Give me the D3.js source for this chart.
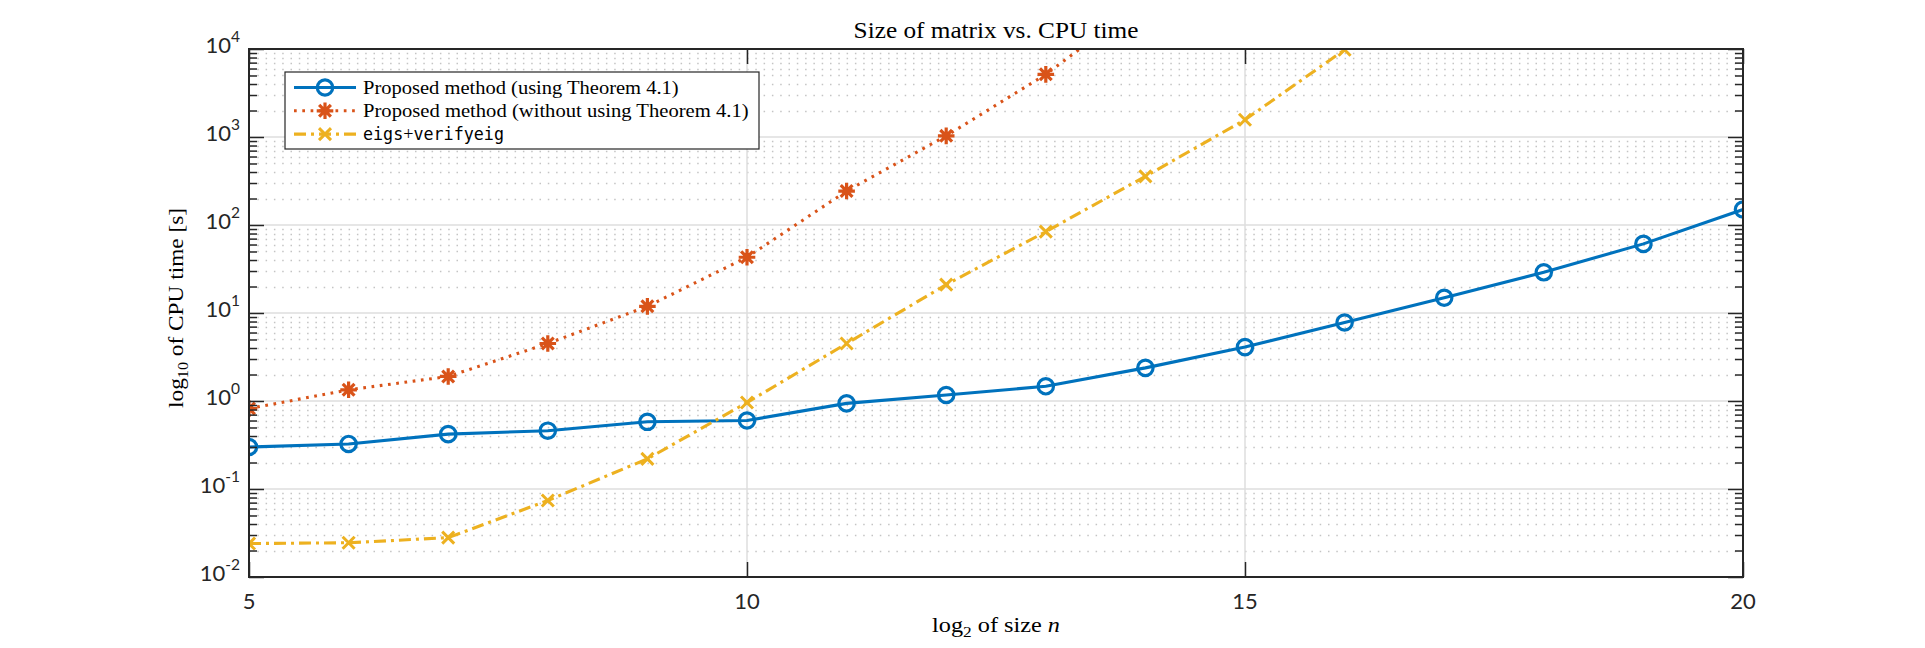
<!DOCTYPE html>
<html>
<head>
<meta charset="utf-8">
<script src="https://cdn.jsdelivr.net/npm/d3@7"></script>
<style>
  body { margin: 0; background: #fff; }
  svg { display: block; }
</style>
</head>
<body>
<svg id="chart" width="1925" height="648"></svg>
<script>
// values
var sizes = [5, 6, 7, 8, 9, 10, 11, 12, 13, 14, 15, 16, 17, 18, 19, 20];
var withThm = [0.30, 0.325, 0.42, 0.46, 0.58, 0.60, 0.94, 1.17, 1.47, 2.38, 4.1, 7.8, 14.9, 29, 61, 150];
var withoutThm = [0.82, 1.34, 1.9, 4.5, 11.9, 43, 243, 1030, 5150, 36000];
var eigsVerify = [0.024, 0.0245, 0.028, 0.074, 0.22, 0.96, 4.5, 21, 84, 357, 1570, 9800];
var xTicks = [5, 10, 15, 20];
var yExps = [-2, -1, 0, 1, 2, 3, 4];

var margin = {left: 249, top: 49},
  width = 1494,
  height = 528;

var axisColor = "#262626";
var tickFont = "Lato, 'Noto Sans', sans-serif";
var serif = "'Liberation Serif', 'DejaVu Serif', serif";
var mono = "'DejaVu Sans Mono', 'Liberation Mono', monospace";

var svg = d3.select("#chart");

var x = d3.scaleLinear().domain([5, 20]).range([0, width]);
var y = d3.scaleLog().domain([1e-2, 1e4]).range([height, 0]);

var g = svg.append("g")
  .attr("transform", "translate(" + margin.left + "," + margin.top + ")");

// minor values for log axis
var minors = [];
yExps.slice(0, -1).forEach(function(e) {
  for (var k = 2; k <= 9; k++) minors.push(k * Math.pow(10, e));
});
var majors = yExps.map(function(e) { return Math.pow(10, e); });

// minor grid (dotted)
g.append("g").selectAll("line")
  .data(minors)
  .enter().append("line")
  .attr("x1", 0).attr("x2", width)
  .attr("y1", function(d) { return Math.round(y(d)) + 0.5; })
  .attr("y2", function(d) { return Math.round(y(d)) + 0.5; })
  .attr("stroke", "#c4c4c4")
  .attr("stroke-width", 1.3)
  .attr("stroke-dasharray", "1.5,6.8");

// major grid
g.append("g").selectAll("line")
  .data(majors.slice(1, -1))
  .enter().append("line")
  .attr("x1", 0).attr("x2", width)
  .attr("y1", function(d) { return y(d); })
  .attr("y2", function(d) { return y(d); })
  .attr("stroke", "#dedede")
  .attr("stroke-width", 1.5);

g.append("g").selectAll("line")
  .data(xTicks.slice(1, -1))
  .enter().append("line")
  .attr("y1", 0).attr("y2", height)
  .attr("x1", function(d) { return x(d); })
  .attr("x2", function(d) { return x(d); })
  .attr("stroke", "#dedede")
  .attr("stroke-width", 1.5);

// clip for the data
svg.append("defs").append("clipPath").attr("id", "plotclip")
  .append("rect").attr("width", width).attr("height", height);

var plot = g.append("g").attr("clip-path", "url(#plotclip)");

var line = d3.line()
  .x(function(d) { return x(d[0]); })
  .y(function(d) { return y(d[1]); });

function pairs(vals) {
  return vals.map(function(v, i) { return [sizes[i], v]; });
}

var series = [
  {vals: withThm, color: "#0072BD", dash: null, marker: "o"},
  {vals: withoutThm, color: "#D95319", dash: "2.7,5.6", marker: "*"},
  {vals: eigsVerify, color: "#EDB120", dash: "12,5,3,5", marker: "x"}
];

function markerPath(type, r) {
  if (type === "*") {
    var a = r * Math.SQRT1_2;
    return "M" + (-r) + ",0L" + r + ",0M0," + (-r) + "L0," + r +
      "M" + (-a) + "," + (-a) + "L" + a + "," + a +
      "M" + (-a) + "," + a + "L" + a + "," + (-a);
  }
  return "M" + (-r) + "," + (-r) + "L" + r + "," + r +
    "M" + (-r) + "," + r + "L" + r + "," + (-r);
}

function drawMarker(sel, type, color) {
  if (type === "o") {
    sel.append("circle").attr("r", 7.7)
      .attr("fill", "none").attr("stroke", color).attr("stroke-width", 3.2);
  } else if (type === "*") {
    sel.append("path").attr("d", markerPath("*", 8.3))
      .attr("fill", "none").attr("stroke", color).attr("stroke-width", 3.2);
  } else {
    sel.append("path").attr("d", markerPath("x", 6))
      .attr("fill", "none").attr("stroke", color).attr("stroke-width", 3);
  }
}

series.forEach(function(s) {
  plot.append("path")
    .datum(pairs(s.vals))
    .attr("d", line)
    .attr("fill", "none")
    .attr("stroke", s.color)
    .attr("stroke-width", 3.1)
    .attr("stroke-dasharray", s.dash);
});

series.forEach(function(s) {
  plot.selectAll(null)
    .data(pairs(s.vals))
    .enter().append("g")
    .attr("transform", function(d) { return "translate(" + x(d[0]) + "," + y(d[1]) + ")"; })
    .each(function() { drawMarker(d3.select(this), s.marker, s.color); });
});

// axes, MATLAB style ticks inside
var ax = g.append("g").attr("class", "axes");

ax.append("g").call(d3.axisLeft(y).tickValues(majors).tickSize(-15).tickFormat(""));
ax.append("g").call(d3.axisLeft(y).tickValues(minors).tickSize(-8).tickFormat(""));
ax.append("g").attr("transform", "translate(" + width + ",0)")
  .call(d3.axisRight(y).tickValues(majors).tickSize(-15).tickFormat(""));
ax.append("g").attr("transform", "translate(" + width + ",0)")
  .call(d3.axisRight(y).tickValues(minors).tickSize(-8).tickFormat(""));
ax.append("g").attr("transform", "translate(0," + height + ")")
  .call(d3.axisBottom(x).tickValues(xTicks).tickSize(-15).tickFormat(""));
ax.append("g")
  .call(d3.axisTop(x).tickValues(xTicks).tickSize(-15).tickFormat(""));

ax.selectAll(".domain").remove();
ax.selectAll("line").attr("stroke", axisColor).attr("stroke-width", 1.5);

ax.append("rect")
  .attr("width", width).attr("height", height)
  .attr("fill", "none")
  .attr("stroke", axisColor)
  .attr("stroke-width", 2);

// y tick labels 10^k
var ylab = g.append("g").selectAll("text")
  .data(yExps)
  .enter().append("text")
  .attr("x", -9)
  .attr("y", function(e) { return y(Math.pow(10, e)) + 4; })
  .attr("text-anchor", "end")
  .attr("font-family", tickFont)
  .attr("fill", axisColor);
ylab.append("tspan").attr("font-size", 22).text("10");
ylab.append("tspan").attr("font-size", 15.5).attr("dy", -11).text(function(e) { return e; });

// x tick labels
g.append("g").selectAll("text")
  .data(xTicks)
  .enter().append("text")
  .attr("x", function(d) { return x(d); })
  .attr("y", height + 32)
  .attr("text-anchor", "middle")
  .attr("font-family", tickFont)
  .attr("font-size", 22)
  .attr("fill", axisColor)
  .text(function(d) { return d; });

// stretch a serif label horizontally to the measured width of the LaTeX text
function fitWidth(textSel, target) {
  var w = textSel.node().getBBox().width;
  textSel.attr("transform", "scale(" + (target / w) + ",1)");
}

// title
var tg = svg.append("g").attr("transform", "translate(" + (margin.left + width / 2) + ",38)");
var title = tg.append("text")
  .attr("text-anchor", "middle")
  .attr("font-family", serif)
  .attr("font-size", 24)
  .attr("fill", "#000")
  .text("Size of matrix vs. CPU time");
fitWidth(title, 285);

// x label
var xg = svg.append("g").attr("transform", "translate(" + (margin.left + width / 2) + ",632)");
var xl = xg.append("text")
  .attr("text-anchor", "middle")
  .attr("font-family", serif)
  .attr("font-size", 21)
  .attr("fill", "#000");
xl.append("tspan").text("log");
xl.append("tspan").attr("font-size", 15).attr("dy", 5).text("2");
xl.append("tspan").attr("dy", -5).text(" of size ");
xl.append("tspan").attr("font-style", "italic").text("n");
fitWidth(xl, 128);

// y label
var yg = svg.append("g").attr("transform", "translate(183,308) rotate(-90)");
var yl = yg.append("text")
  .attr("text-anchor", "middle")
  .attr("font-family", serif)
  .attr("font-size", 21.5)
  .attr("fill", "#000");
yl.append("tspan").text("log");
yl.append("tspan").attr("font-size", 15).attr("dy", 5).text("10");
yl.append("tspan").attr("dy", -5).text(" of CPU time [s]");
fitWidth(yl, 200);

// legend
var legendNames = [
  [{t: "Proposed method (using Theorem 4.1)"}],
  [{t: "Proposed method (without using Theorem 4.1)"}],
  [{t: "eigs", mono: true}, {t: "+"}, {t: "verifyeig", mono: true}]
];
var legendWidths = [316, 386, 141];

var legend = svg.append("g").attr("transform", "translate(285,72)");
legend.append("rect")
  .attr("width", 474).attr("height", 77)
  .attr("fill", "#fff")
  .attr("stroke", axisColor)
  .attr("stroke-width", 1.2);

series.forEach(function(s, i) {
  var row = legend.append("g").attr("transform", "translate(0," + (15.5 + i * 23.3) + ")");
  row.append("line")
    .attr("x1", 9).attr("x2", 71)
    .attr("stroke", s.color)
    .attr("stroke-width", 3.1)
    .attr("stroke-dasharray", s.dash);
  drawMarker(row.append("g").attr("transform", "translate(40,0)"), s.marker, s.color);
  var tgRow = row.append("g").attr("transform", "translate(78,6)");
  var t = tgRow.append("text")
    .attr("font-family", serif)
    .attr("font-size", 18.5)
    .attr("fill", "#000");
  legendNames[i].forEach(function(p) {
    t.append("tspan")
      .attr("font-family", p.mono ? mono : null)
      .attr("font-size", p.mono ? 17 : null)
      .text(p.t);
  });
  fitWidth(t, legendWidths[i]);
});
</script>
</body>
</html>
